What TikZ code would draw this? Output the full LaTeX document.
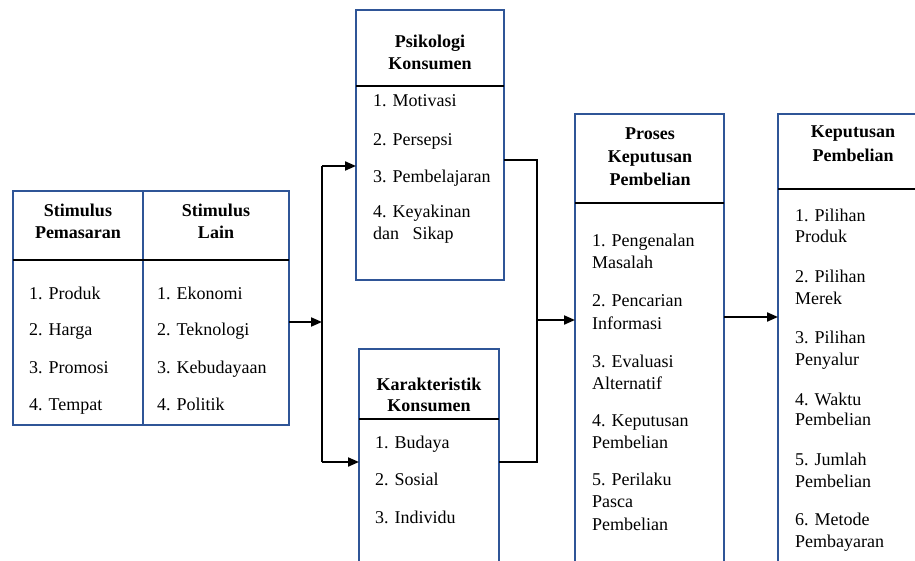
\documentclass[tikz,border=0pt]{standalone}
\usepackage{fontspec}
\setmainfont{Liberation Serif}
\usepackage{xcolor}
\usetikzlibrary{arrows.meta,positioning,calc}
\definecolor{boxblue}{HTML}{2F5597}

\begin{document}
\begin{tikzpicture}[x=1pt,y=-1pt,font=\fontsize{18}{22}\selectfont,
  box/.style={draw=boxblue,line width=2pt,inner sep=0pt,outer sep=0pt,anchor=north west},
  hdr/.style={line width=2pt},
  link/.style={line width=2pt},
  arr/.style={link,-{Triangle[length=11pt,width=9pt]}},
  ttl/.style={anchor=base,inner sep=0pt,font=\fontsize{18}{22}\selectfont\bfseries},
  item/.style={anchor=base west,inner sep=0pt}]
\useasboundingbox (0,0) rectangle (915,561);
\clip (0,0) rectangle (915,561);
% boxes
\node[box,minimum width=130pt,minimum height=234pt] (stimP) at (13,191) {};
\node[box,minimum width=146pt,minimum height=234pt] (stimL) at (143,191) {};
\node[box,minimum width=148pt,minimum height=270pt] (psi) at (356,10) {};
\node[box,minimum width=140pt,minimum height=240pt] (kar) at (359,349) {};
\node[box,minimum width=149pt,minimum height=470pt] (proc) at (575,114) {};
\node[box,minimum width=150pt,minimum height=470pt] (dec) at (778,114) {};
\draw[hdr] (13,260) -- (289,260);
\draw[hdr] (356,86) -- (504,86);
\draw[hdr] (359,419) -- (499,419);
\draw[hdr] (575,203) -- (724,203);
\draw[hdr] (778,189) -- (928,189);
% titles
\node[ttl] (tsp1) at (78,217) {Stimulus};
\node[ttl] (tsp2) at (78,239) {Pemasaran};
\node[ttl] (tsl1) at (216,217) {Stimulus};
\node[ttl] (tsl2) at (216,239) {Lain};
\node[ttl] (tps1) at (430,48) {Psikologi};
\node[ttl] (tps2) at (430,70) {Konsumen};
\node[ttl] (tka1) at (429,390) {Karakteristik};
\node[ttl] (tka2) at (429,411) {Konsumen};
\node[ttl] (tpr1) at (650,140) {Proses};
\node[ttl] (tpr2) at (650,163) {Keputusan};
\node[ttl] (tpr3) at (650,186) {Pembelian};
\node[ttl] (tde1) at (853,138) {Keputusan};
\node[ttl] (tde2) at (853,162) {Pembelian};
% items
\foreach \txt/\yy in {1. Produk/299,2. Harga/335,3. Promosi/373,4. Tempat/410}
  \node[item] (sp\yy) at (29,\yy) {\txt};
\foreach \txt/\yy in {1. Ekonomi/299,2. Teknologi/335,3. Kebudayaan/373,4. Politik/410}
  \node[item] (sl\yy) at (157,\yy) {\txt};
\foreach \txt/\yy in {1. Motivasi/107,2. Persepsi/146,3. Pembelajaran/183,4. Keyakinan/218,dan\ \ \ Sikap/240}
  \node[item] (ps\yy) at (373,\yy) {\txt};
\foreach \txt/\yy in {1. Budaya/448,2. Sosial/485,3. Individu/523}
  \node[item] (ka\yy) at (375,\yy) {\txt};
\foreach \txt/\yy in {1. Pengenalan/247,Masalah/269,2. Pencarian/306,Informasi/329,3. Evaluasi/367,
  Alternatif/389,4. Keputusan/426,Pembelian/448,5. Perilaku/485,Pasca/507,Pembelian/530}
  \node[item] (pr\yy) at (592,\yy) {\txt};
\foreach \txt/\yy in {1. Pilihan/222,Produk/243,2. Pilihan/283,Merek/304,3. Pilihan/343,Penyalur/365,
  4. Waktu/405,Pembelian/425,5. Jumlah/465,Pembelian/487,6. Metode/525,Pembayaran/547}
  \node[item] (de\yy) at (795,\yy) {\txt};
% connectors
\coordinate (split) at (322,322);
\coordinate (psiIn) at (322,166);
\coordinate (karIn) at (322,462);
\coordinate (psiOut) at (537,160);
\coordinate (karOut) at (537,462);
\coordinate (join) at (537,320);
\coordinate (mid) at (750,317);
\draw[arr] (stimL.east |- split) -- (split);
\draw[link] (psiIn) -- (karIn);
\draw[arr] (psiIn) -- (psiIn -| psi.west);
\draw[arr] (karIn) -- (karIn -| kar.west);
\draw[link] (psi.east |- psiOut) -- (psiOut) -- (karOut) -- (karOut -| kar.east);
\draw[arr] (join) -- (join -| proc.west);
\draw[arr] (mid -| proc.east) -- (mid -| dec.west);
\end{tikzpicture}
\end{document}
